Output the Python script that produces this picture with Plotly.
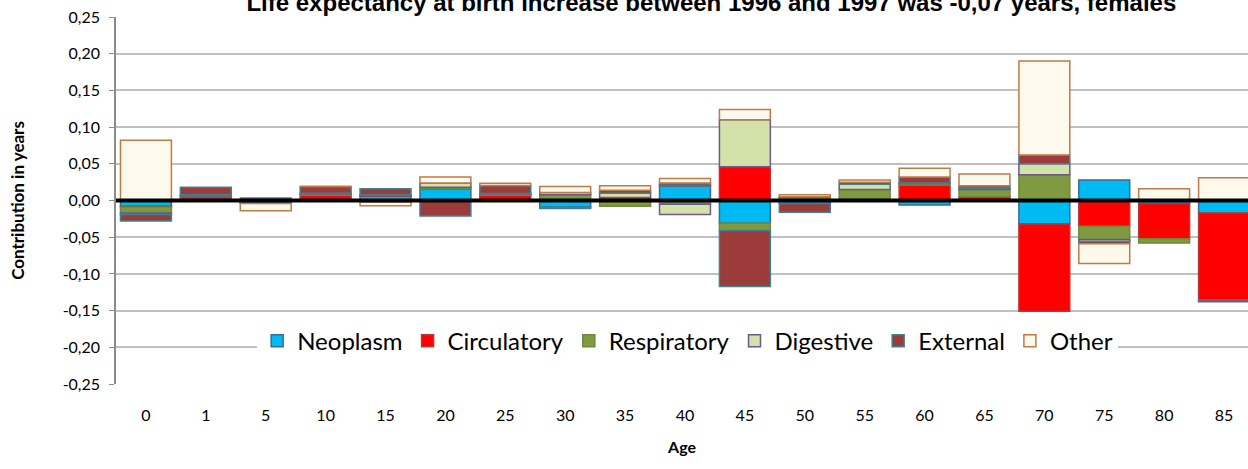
import plotly.graph_objects as go

# Age groups (x categories)
ages = ["0", "1", "5", "10", "15", "20", "25", "30", "35", "40",
        "45", "50", "55", "60", "65", "70", "75", "80", "85"]

# Contribution to the change in life expectancy, by cause of death (years)
neoplasm    = [-0.008, 0.002, -0.002, 0.002, 0.006, 0.016, 0.001, -0.009, 0.002, 0.020,
               -0.031, -0.004, 0.000, -0.006, 0.000, -0.032, 0.028, -0.004, -0.017]
circulatory = [-0.001, 0.003, -0.001, 0.005, 0.001, 0.000, 0.006, 0.002, 0.002, 0.001,
               0.046, 0.002, 0.002, 0.021, 0.005, -0.119, -0.035, -0.048, -0.119]
respiratory = [-0.008, 0.001, 0.003, 0.002, -0.002, 0.002, 0.002, 0.006, -0.008, -0.005,
               -0.010, 0.002, 0.013, 0.002, 0.010, 0.035, -0.018, -0.006, -0.001]
digestive   = [-0.002, 0.002, 0.000, 0.001, 0.001, 0.006, 0.0005, 0.003, 0.006, -0.014,
               0.064, 0.001, 0.007, 0.001, 0.002, 0.015, -0.003, 0.000, -0.001]
external    = [-0.009, 0.010, -0.001, 0.009, 0.008, -0.021, 0.011, -0.002, 0.004, 0.003,
               -0.076, -0.012, 0.003, 0.008, 0.003, 0.012, -0.003, 0.000, 0.000]
other       = [0.082, -0.001, -0.010, 0.000, -0.005, 0.008, 0.003, 0.008, 0.006, 0.006,
               0.014, 0.003, 0.003, 0.012, 0.016, 0.128, -0.027, 0.016, 0.031]

# Series names with fill / outline colours
series = [
    ("Neoplasm", neoplasm, "#00BAF2", "#3A6A9A"),
    ("Circulatory", circulatory, "#FF0000", "#B03A3A"),
    ("Respiratory", respiratory, "#7F9A41", "#6E8A38"),
    ("Digestive", digestive, "#D3E2A9", "#6B5A8C"),
    ("External", external, "#9B3B3A", "#3E8294"),
    ("Other", other, "#FDF9EC", "#C07A45"),
]

y_ticks = [0.25, 0.20, 0.15, 0.10, 0.05, 0.00, -0.05, -0.10, -0.15, -0.20, -0.25]
y_ticktext = [f"{v:.2f}".replace(".", ",") for v in y_ticks]

FONT = "Lato, 'Noto Sans', sans-serif"

fig = go.Figure()
for name, vals, fill, edge in series:
    fig.add_trace(go.Bar(
        x=ages, y=vals, name=name,
        marker=dict(color=fill, line=dict(color=edge, width=1.5)),
    ))

fig.update_layout(
    width=1248, height=469,
    barmode="relative",
    bargap=0.15,
    plot_bgcolor="white",
    paper_bgcolor="white",
    margin=dict(l=116, r=0, t=17, b=85),
    font=dict(family=FONT, size=15, color="black"),
    title=dict(
        text="<b>Life expectancy at birth increase between 1996 and 1997 was -0,07 years, females</b>",
        font=dict(family="'Liberation Sans', Arial, sans-serif", size=24, color="black"),
        x=0.57, xanchor="center", y=0.995, yanchor="middle",
    ),
    legend=dict(
        orientation="h",
        x=0.505, xanchor="center",
        y=0.117, yanchor="middle",
        bgcolor="white",
        font=dict(family=FONT, size=24, color="black"),
        itemwidth=30,
        traceorder="normal",
    ),
    xaxis=dict(
        range=[-0.5, 18.4],
        showgrid=False,
        showline=False,
        ticks="",
        ticklabelstandoff=20,
        tickfont=dict(family=FONT, size=16),
        title=dict(text="<b>Age</b>", font=dict(family=FONT, size=16), standoff=18),
    ),
    yaxis=dict(
        range=[-0.25, 0.25],
        tickvals=y_ticks,
        ticktext=y_ticktext,
        showgrid=True,
        gridcolor="#C0C0C0",
        gridwidth=1.5,
        zeroline=False,
        showline=True,
        linecolor="#8C8C8C",
        linewidth=1.5,
        ticks="outside",
        ticklen=5,
        tickcolor="#8C8C8C",
        ticklabelstandoff=6,
        tickfont=dict(family=FONT, size=16),
        title=dict(text="<b>Contribution in years</b>", font=dict(family=FONT, size=17), standoff=34),
    ),
    shapes=[dict(
        type="line", xref="paper", yref="y",
        x0=0, x1=1, y0=0, y1=0,
        line=dict(color="black", width=4),
        layer="above",
    )],
)

fig.write_html("out.html")
